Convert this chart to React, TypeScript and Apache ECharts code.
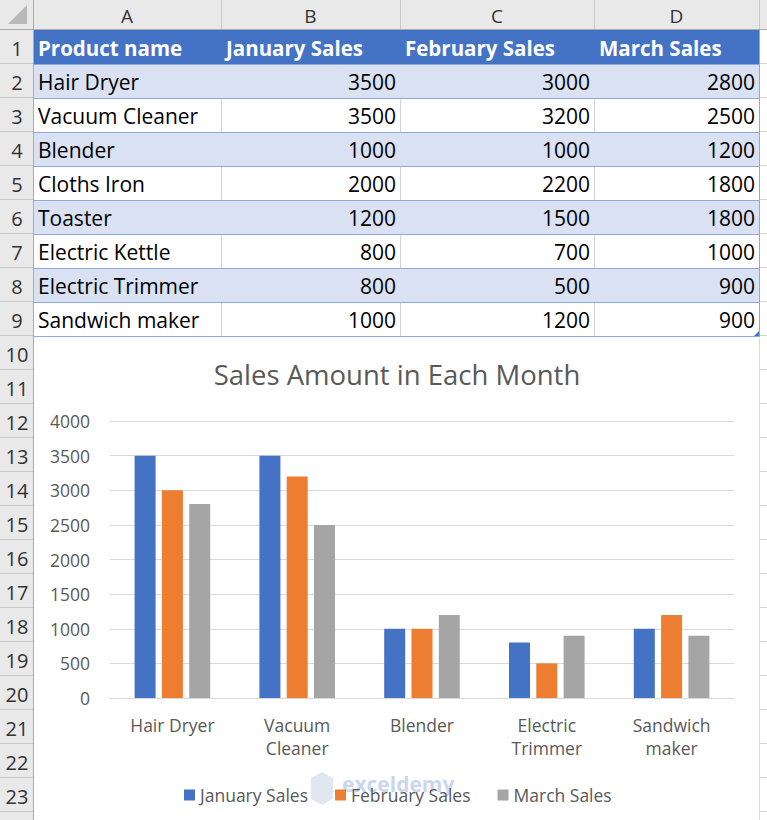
import React, { useEffect, useRef } from "react";
import * as echarts from "echarts";

const columnLetters = ["A", "B", "C", "D"];
const tableHeaders = ["Product name", "January Sales", "February Sales", "March Sales"];
const products = ["Hair Dryer", "Vacuum Cleaner", "Blender", "Cloths Iron", "Toaster", "Electric Kettle", "Electric Trimmer", "Sandwich maker"];
const januarySales = [3500, 3500, 1000, 2000, 1200, 800, 800, 1000];
const februarySales = [3000, 3200, 1000, 2200, 1500, 700, 500, 1200];
const marchSales = [2800, 2500, 1200, 1800, 1800, 1000, 900, 900];
const chartProducts = ["Hair Dryer", "Vacuum Cleaner", "Blender", "Electric Trimmer", "Sandwich maker"];
const chartCategoryLabels = ["Hair Dryer", "Vacuum\nCleaner", "Blender", "Electric\nTrimmer", "Sandwich\nmaker"];
const seriesNames = ["January Sales", "February Sales", "March Sales"];
const chartTitle = "Sales Amount in Each Month";
const yMin = 0;
const yMax = 4000;
const yInterval = 500;

const W = 767;
const H = 820;
const colEdges = [33, 221, 400, 594, 759];
const headerH = 30;
const rowH = 34;
const visibleRowNumbers = 23;
const FONT = "Open Sans";

function pick(arr: number[]) {
  return chartProducts.map((p) => arr[products.indexOf(p)]);
}

function buildSheet() {
  const els: any[] = [];
  const rowTop = (r: number) => headerH + (r - 1) * rowH;
  const nRows = Math.ceil((H - headerH) / rowH);
  const chartTop = rowTop(10) + 2;

  els.push({ type: "rect", shape: { x: 0, y: 0, width: W, height: headerH }, style: { fill: "#E9E9E9" } });
  els.push({ type: "rect", shape: { x: 0, y: headerH, width: colEdges[0], height: H - headerH }, style: { fill: "#E9E9E9" } });
  els.push({ type: "polygon", shape: { points: [[8, 24], [27, 24], [27, 5]] }, style: { fill: "#B9B9B9" } });

  colEdges.forEach((x) => {
    els.push({ type: "line", shape: { x1: x + 0.5, y1: 0, x2: x + 0.5, y2: headerH }, style: { stroke: "#C8C8C8", lineWidth: 1 } });
  });
  els.push({ type: "line", shape: { x1: 0, y1: headerH - 0.5, x2: W, y2: headerH - 0.5 }, style: { stroke: "#ABABAB", lineWidth: 1 } });
  columnLetters.forEach((c, i) => {
    els.push({
      type: "text",
      x: (colEdges[i] + colEdges[i + 1]) / 2,
      y: headerH / 2 + 1,
      style: { text: c, fill: "#333333", font: `19px "${FONT}"`, align: "center", verticalAlign: "middle" },
    });
  });

  for (let r = 1; r <= nRows; r++) {
    const y = rowTop(r + 1);
    els.push({ type: "line", shape: { x1: 0, y1: y - 0.5, x2: colEdges[0], y2: y - 0.5 }, style: { stroke: "#C8C8C8", lineWidth: 1 } });
  }
  for (let r = 1; r <= visibleRowNumbers; r++) {
    els.push({
      type: "text",
      x: colEdges[0] / 2 + 0.5,
      y: rowTop(r) + rowH / 2 + 1,
      style: { text: String(r), fill: "#333333", font: `20px "${FONT}"`, align: "center", verticalAlign: "middle" },
    });
  }
  els.push({ type: "line", shape: { x1: colEdges[0] + 0.5, y1: 0, x2: colEdges[0] + 0.5, y2: H }, style: { stroke: "#ABABAB", lineWidth: 1 } });

  for (let r = 1; r <= nRows; r++) {
    const y = rowTop(r + 1);
    els.push({ type: "line", shape: { x1: colEdges[4], y1: y - 0.5, x2: W, y2: y - 0.5 }, style: { stroke: "#D4D4D4", lineWidth: 1 } });
  }
  els.push({ type: "line", shape: { x1: colEdges[4] + 0.5, y1: chartTop, x2: colEdges[4] + 0.5, y2: H }, style: { stroke: "#D9D9D9", lineWidth: 1 } });

  els.push({ type: "rect", shape: { x: colEdges[0] + 1, y: rowTop(1), width: colEdges[4] - colEdges[0] - 1, height: rowH }, style: { fill: "#4472C4" } });
  tableHeaders.forEach((h, i) => {
    els.push({
      type: "text",
      x: colEdges[i] + 5,
      y: rowTop(1) + rowH / 2 + 1,
      style: { text: h, fill: "#FFFFFF", font: `bold 20.5px "${FONT}"`, align: "left", verticalAlign: "middle" },
    });
  });

  products.forEach((p, k) => {
    const r = k + 2;
    const top = rowTop(r);
    const banded = k % 2 === 0;
    els.push({ type: "rect", shape: { x: colEdges[0] + 1, y: top, width: colEdges[4] - colEdges[0] - 1, height: rowH }, style: { fill: banded ? "#D9E1F2" : "#FFFFFF" } });
    if (!banded) {
      for (let c = 1; c < 4; c++) {
        els.push({ type: "line", shape: { x1: colEdges[c] + 0.5, y1: top, x2: colEdges[c] + 0.5, y2: top + rowH }, style: { stroke: "#D4D4D4", lineWidth: 1 } });
      }
    }
    const vals = [januarySales[k], februarySales[k], marchSales[k]];
    els.push({
      type: "text",
      x: colEdges[0] + 5,
      y: top + rowH / 2 + 1,
      style: { text: p, fill: "#000000", font: `21px "${FONT}"`, align: "left", verticalAlign: "middle" },
    });
    vals.forEach((v, j) => {
      els.push({
        type: "text",
        x: colEdges[j + 2] - 4,
        y: top + rowH / 2 + 1,
        style: { text: String(v), fill: "#000000", font: `21px "${FONT}"`, align: "right", verticalAlign: "middle" },
      });
    });
  });
  for (let r = 2; r <= 10; r++) {
    const y = rowTop(r);
    els.push({ type: "line", shape: { x1: colEdges[0] + 1, y1: y + 0.5, x2: colEdges[4], y2: y + 0.5 }, style: { stroke: "#8EA9DB", lineWidth: 1 } });
  }
  els.push({ type: "line", shape: { x1: colEdges[4] + 0.5, y1: rowTop(1), x2: colEdges[4] + 0.5, y2: rowTop(10) + 1 }, style: { stroke: "#8EA9DB", lineWidth: 1 } });
  els.push({ type: "polygon", shape: { points: [[colEdges[4] - 5, rowTop(10)], [colEdges[4], rowTop(10)], [colEdges[4], rowTop(10) - 5]] }, style: { fill: "#4472C4" } });

  // watermark (as in the reference)
  els.push({
    type: "polygon",
    shape: { points: [[322, 772], [333, 778], [333, 799], [322, 805], [311, 799], [311, 778]] },
    style: { fill: "#C9D3E6", opacity: 0.55 },
  });
  els.push({
    type: "text",
    x: 342,
    y: 784,
    silent: true,
    style: { text: "exceldemy", fill: "#9DB3E3", opacity: 0.55, font: `bold 21px "${FONT}"`, align: "left", verticalAlign: "middle" },
  });
  return els;
}

export default function App() {
  const ref = useRef<HTMLDivElement>(null);
  useEffect(() => {
    if (!ref.current) return;
    const chart = echarts.init(ref.current, undefined, { renderer: "svg" });
    const colors = ["#4472C4", "#ED7D31", "#A5A5A5"];
    const dataSets = [pick(januarySales), pick(februarySales), pick(marchSales)];
    chart.setOption({
      animation: false,
      backgroundColor: "#FFFFFF",
      textStyle: { fontFamily: FONT },
      title: {
        text: chartTitle,
        left: 392,
        textAlign: "center",
        top: 355,
        textStyle: { fontFamily: FONT, fontSize: 27.5, fontWeight: "normal", color: "#595959" },
      },
      legend: {
        data: seriesNames,
        top: 781,
        left: 179,
        icon: "rect",
        itemWidth: 11,
        itemHeight: 11,
        itemGap: 27,
        textStyle: { fontFamily: FONT, fontSize: 17.5, color: "#595959" },
      },
      grid: { left: 110, right: W - 734, top: 421, bottom: H - 698, containLabel: false },
      xAxis: {
        type: "category",
        data: chartProducts,
        axisLine: { show: true, lineStyle: { color: "#D9D9D9", width: 1 } },
        axisTick: { show: false },
        axisLabel: {
          color: "#595959",
          fontFamily: FONT,
          fontSize: 17.5,
          margin: 15,
          lineHeight: 23,
          interval: 0,
          formatter: (v: string) => chartCategoryLabels[chartProducts.indexOf(v)],
        },
      },
      yAxis: {
        type: "value",
        min: yMin,
        max: yMax,
        interval: yInterval,
        axisLine: { show: false },
        axisTick: { show: false },
        axisLabel: { color: "#595959", fontFamily: FONT, fontSize: 17.5, margin: 20, formatter: (v: number) => String(v) },
        splitLine: { lineStyle: { color: "#D9D9D9", width: 1 } },
      },
      series: seriesNames.map((name, i) => ({
        name,
        type: "bar",
        data: dataSets[i],
        barWidth: 21,
        barGap: "30%",
        itemStyle: { color: colors[i] },
      })),
      graphic: { elements: buildSheet() },
    });
    return () => chart.dispose();
  }, []);
  return <div ref={ref} style={{ position: "fixed", left: 0, top: 0, width: W, height: H }} />;
}
